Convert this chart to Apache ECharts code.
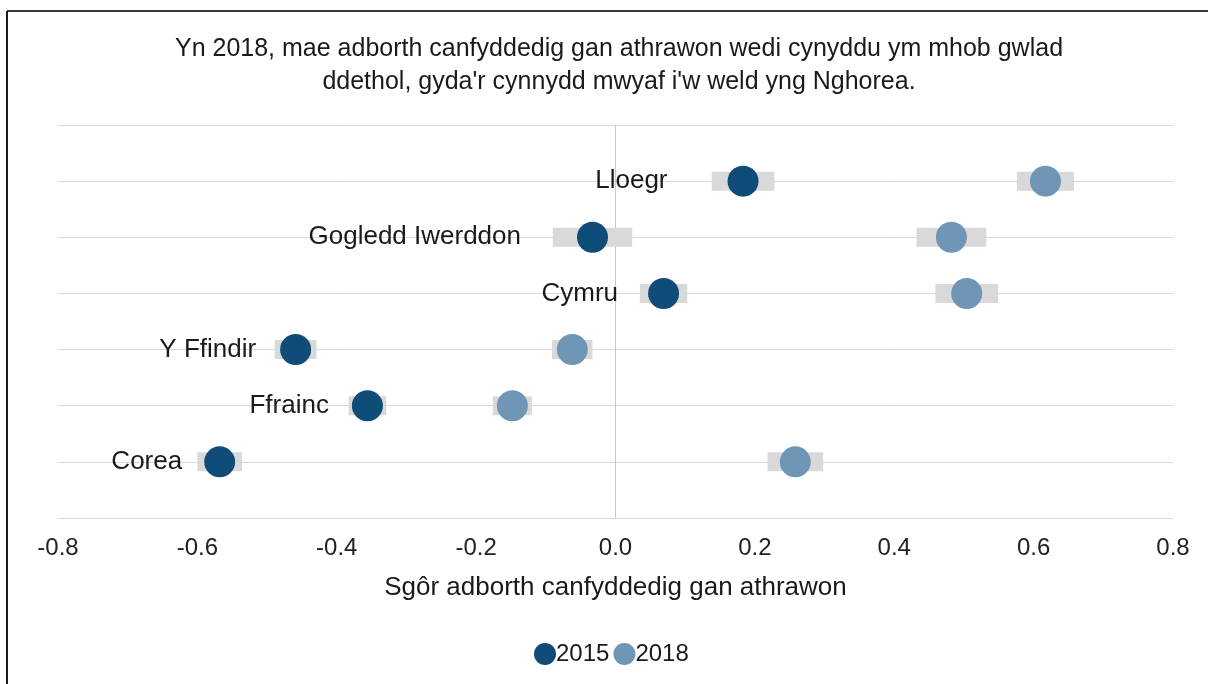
<!DOCTYPE html>
<html>
<head>
<meta charset="utf-8">
<script src="https://cdn.jsdelivr.net/npm/echarts@6/dist/echarts.min.js"></script>
<style>
  html, body { margin: 0; padding: 0; background: #ffffff; }
  #chart { width: 1208px; height: 684px; }
</style>
</head>
<body>
<div id="chart"></div>
<script>
// Countries, top row first
const countries = ['Lloegr', 'Gogledd Iwerddon', 'Cymru', 'Y Ffindir', 'Ffrainc', 'Corea'];
// Teacher feedback score per year
const score2015 = [0.183, -0.033, 0.069, -0.459, -0.356, -0.568];
const score2018 = [0.617, 0.482, 0.504, -0.062, -0.148, 0.258];
// Half-width of the confidence interval around each score
const ci2015 = [0.045, 0.057, 0.034, 0.030, 0.027, 0.032];
const ci2018 = [0.041, 0.050, 0.045, 0.029, 0.028, 0.040];
const years = ['2015', '2018'];
const xTicks = [-0.8, -0.6, -0.4, -0.2, 0.0, 0.2, 0.4, 0.6, 0.8];

const titleText = "Yn 2018, mae adborth canfyddedig gan athrawon wedi cynyddu ym mhob gwlad\nddethol, gyda'r cynnydd mwyaf i'w weld yng Nghorea.";
const axisTitle = 'Sgôr adborth canfyddedig gan athrawon';

// Styling
const FONT = '"Liberation Sans", Arial, sans-serif';
const C2015 = '#0f4c78';
const C2018 = '#7096b6';
const CI_COLOR = '#d9d9d9';
const TEXT = '#1a1a1a';
const labelGap = [60, 56, 30, 24, 23, 22];

const n = countries.length;
const rowY = i => n - i;

const ciData = [];
countries.forEach((c, i) => {
  ciData.push([score2015[i] - ci2015[i], score2015[i] + ci2015[i], rowY(i)]);
  ciData.push([score2018[i] - ci2018[i], score2018[i] + ci2018[i], rowY(i)]);
});

const chart = echarts.init(document.getElementById('chart'), null, { renderer: 'canvas' });

chart.setOption({
  backgroundColor: '#ffffff',
  animation: false,
  textStyle: { fontFamily: FONT },
  title: {
    text: titleText,
    left: 614,
    top: 28,
    textAlign: 'center',
    textStyle: { fontFamily: FONT, fontSize: 25, fontWeight: 'normal', color: TEXT, lineHeight: 33 }
  },
  graphic: [
    { type: 'line', shape: { x1: 7, y1: 11, x2: 1208, y2: 11 }, style: { stroke: '#3a3a3a', lineWidth: 2 } },
    { type: 'line', shape: { x1: 7, y1: 11, x2: 7, y2: 684 }, style: { stroke: '#1a1a1a', lineWidth: 2 } }
  ],
  legend: {
    top: 637,
    left: 529,
    itemGap: 4,
    itemWidth: 22,
    itemHeight: 22,
    textStyle: { fontFamily: FONT, fontSize: 24, color: TEXT, padding: [0, 0, 0, -5] },
    data: years.map(y => ({ name: y, icon: 'circle' }))
  },
  grid: { left: 58, right: 35, top: 125, bottom: 166 },
  xAxis: {
    type: 'value',
    min: xTicks[0],
    max: xTicks[xTicks.length - 1],
    interval: 0.2,
    name: axisTitle,
    nameLocation: 'middle',
    nameGap: 57,
    nameTextStyle: { fontFamily: FONT, fontSize: 26, color: TEXT },
    axisLine: { show: false },
    axisTick: { show: false },
    splitLine: { show: false },
    axisLabel: {
      fontFamily: FONT, fontSize: 24, color: '#222', margin: 18,
      formatter: v => v.toFixed(1)
    }
  },
  yAxis: {
    type: 'value',
    min: 0,
    max: 7,
    interval: 1,
    axisLine: { show: true, onZero: true, lineStyle: { color: '#c8c8c8', width: 1 } },
    axisTick: { show: false },
    axisLabel: { show: false },
    splitLine: { show: true, lineStyle: { color: '#d9d9d9', width: 1 } }
  },
  series: [
    {
      name: 'ci',
      type: 'custom',
      silent: true,
      z: 1,
      data: ciData,
      encode: { x: [0, 1], y: 2 },
      renderItem: (params, api) => {
        const a = api.coord([api.value(0), api.value(2)]);
        const b = api.coord([api.value(1), api.value(2)]);
        const h = 19;
        return {
          type: 'rect',
          shape: { x: a[0], y: a[1] - h / 2, width: b[0] - a[0], height: h },
          style: { fill: CI_COLOR }
        };
      }
    },
    {
      name: years[0],
      type: 'scatter',
      z: 3,
      symbolSize: 31,
      itemStyle: { color: C2015, opacity: 1 },
      data: countries.map((c, i) => ({
        name: c,
        value: [score2015[i], rowY(i)],
        label: { distance: labelGap[i] }
      })),
      label: {
        show: true,
        position: 'left',
        formatter: p => p.name,
        fontFamily: FONT,
        fontSize: 26,
        color: TEXT
      }
    },
    {
      name: years[1],
      type: 'scatter',
      z: 3,
      symbolSize: 31,
      itemStyle: { color: C2018, opacity: 1 },
      data: countries.map((c, i) => ({ name: c, value: [score2018[i], rowY(i)] }))
    }
  ]
});
</script>
</body>
</html>
